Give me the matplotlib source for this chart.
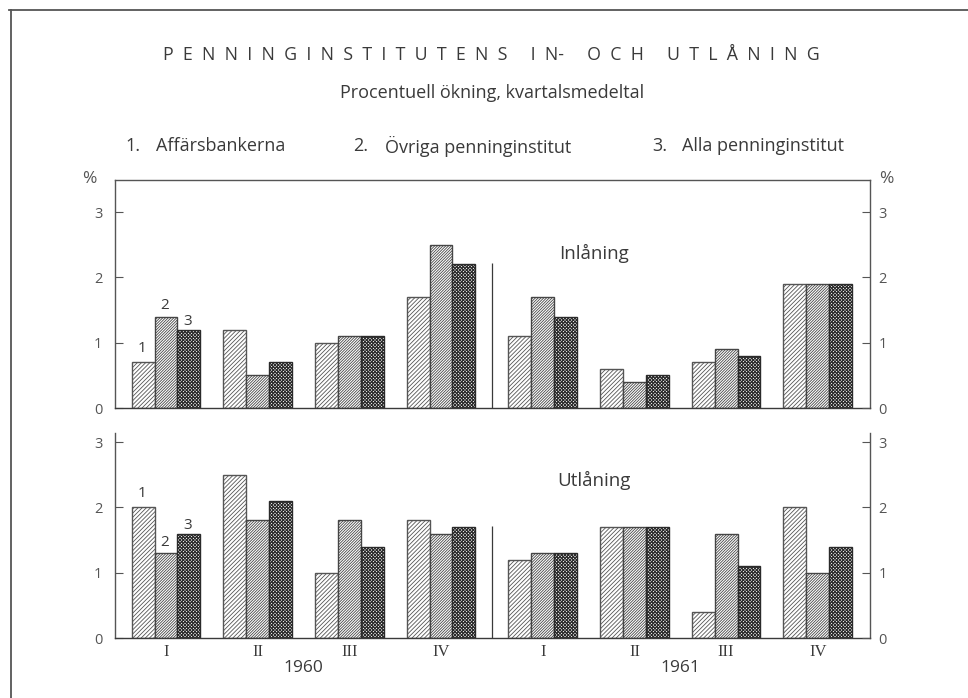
import matplotlib
matplotlib.use("Agg")
import matplotlib.pyplot as plt
from matplotlib.lines import Line2D
import numpy as np

plt.rcParams['font.family'] = ['Open Sans', 'DejaVu Sans']
plt.rcParams['hatch.linewidth'] = 0.6

# data
kvartal = ['I', 'II', 'III', 'IV', 'I', 'II', 'III', 'IV']
ar = ['1960', '1961']
serier = ['Affärsbankerna', 'Övriga penninginstitut', 'Alla penninginstitut']

# Inlåning, % ökning per kvartal
inl_affars = [0.7, 1.2, 1.0, 1.7, 1.1, 0.6, 0.7, 1.9]
inl_ovriga = [1.4, 0.5, 1.1, 2.5, 1.7, 0.4, 0.9, 1.9]
inl_alla = [1.2, 0.7, 1.1, 2.2, 1.4, 0.5, 0.8, 1.9]

# Utlåning
utl_affars = [2.0, 2.5, 1.0, 1.8, 1.2, 1.7, 0.4, 2.0]
utl_ovriga = [1.3, 1.8, 1.8, 1.6, 1.3, 1.7, 1.6, 1.0]
utl_alla = [1.6, 2.1, 1.4, 1.7, 1.3, 1.7, 1.1, 1.4]

ink = '#3a3a3a'
lys = '#555555'

# gruppernas lägen, lite extra lucka mellan åren
pos = np.array([0, 1, 2, 3, 4.11, 5.11, 6.11, 7.11])
w = 0.25
# (hatch, färg, linjebredd för hatch)
monster = [('////////', '#555555', 0.6), ('////////////', '#454545', 0.6), ('xxxxxxxxxx', '#2a2a2a', 0.8)]

fig = plt.figure(figsize=(9.68, 6.98), dpi=100)

# ram runt figuren (överkant och vänsterkant)
fig.add_artist(Line2D([9 / 968, 1], [1 - 10 / 698, 1 - 10 / 698], color=lys, lw=1.3))
fig.add_artist(Line2D([11 / 968, 11 / 968], [0, 1 - 10 / 698], color=lys, lw=1.3))

# rubriker (spärrad titel)
titel = 'PENNINGINSTITUTENS IN- OCH UTLÅNING'
spaced = '     '.join('  '.join(ord_) for ord_ in titel.split(' ')).replace('  -', '-')
fig.text(0.508, 1 - 55 / 698, spaced, ha='center', va='center', fontsize=12.8, color=ink)
fig.text(0.508, 1 - 93 / 698, 'Procentuell ökning, kvartalsmedeltal', ha='center', va='center',
         fontsize=13, color=ink)

num_x = [125, 353, 652]
namn_x = [156, 385, 682]
for i, s in enumerate(serier):
    fig.text(num_x[i] / 968, 1 - 146 / 698, f'{i + 1}.', ha='left', va='center', fontsize=13, color=ink)
    fig.text(namn_x[i] / 968, 1 - 146 / 698, s, ha='left', va='center', fontsize=13, color=ink)


def panel(rect, ymax, data, rubrik, rubrik_y, delare_y, topp):
    ax = fig.add_axes(rect)
    for k, (vals, (h, c, hlw)) in enumerate(zip(data, monster)):
        bars = ax.bar(pos + (k - 1) * w, vals, w, facecolor='white', edgecolor=c, hatch=h, lw=1.0)
        for b in bars:
            if hasattr(b, 'set_hatch_linewidth'):
                b.set_hatch_linewidth(hlw)
        # siffror över första gruppen
        ax.annotate(str(k + 1), (pos[0] + (k - 1) * w, vals[0]), xytext=(-1, [10, 8, 5.5][k]),
                    textcoords='offset points', ha='center', va='center', fontsize=11, color=ink)
    ax.set_xlim(-0.556, 7.68)
    ax.set_ylim(0, ymax)
    ax.set_yticks([0, 1, 2, 3])
    ax.tick_params(axis='y', direction='in', length=6, width=0.8, color=lys, labelsize=10.5,
                   labelcolor=lys, pad=9)
    ax.tick_params(axis='x', length=0)
    for s in ax.spines.values():
        s.set_color(lys)
        s.set_linewidth(1.0)
    ax.spines['top'].set_visible(topp)
    ax.spines['bottom'].set_color(ink)
    ax2 = ax.twinx()
    ax2.set_ylim(0, ymax)
    ax2.set_yticks([0, 1, 2, 3])
    ax2.tick_params(axis='y', direction='in', length=6, width=0.8, color=lys, labelsize=10.5,
                    labelcolor=lys, pad=6)
    for s in ax2.spines.values():
        s.set_visible(False)
    ax.vlines((pos[3] + pos[4]) / 2, 0, delare_y, color=ink, lw=0.9)
    ax.text(4.67, rubrik_y, rubrik, ha='center', va='center', fontsize=13.5, color=ink)
    return ax


top = panel([115 / 968, 1 - 408 / 698, 755 / 968, 228 / 698], 3.49,
            [inl_affars, inl_ovriga, inl_alla], 'Inlåning', 2.37, 2.22, True)
top.set_xticks([])
top.text(-0.025, 1.005, '%', transform=top.transAxes, ha='right', va='center', fontsize=12.5, color=lys)
top.text(1.012, 1.005, '%', transform=top.transAxes, ha='left', va='center', fontsize=12.5, color=lys)

bot = panel([115 / 968, 60 / 698, 755 / 968, 205 / 698], 3.14,
            [utl_affars, utl_ovriga, utl_alla], 'Utlåning', 2.42, 1.72, False)
bot.set_xticks(pos)
bot.set_xticklabels(kvartal, fontfamily='Liberation Serif', fontsize=12, color=ink)
bot.tick_params(axis='x', pad=4)
for i, a in enumerate(ar):
    xm = (pos[4 * i + 1] + pos[4 * i + 2]) / 2
    bot.text(xm, -0.145, a, transform=bot.get_xaxis_transform(), ha='center', va='center',
             fontsize=12.5, color=ink)

fig.savefig('out.png', dpi=100)
